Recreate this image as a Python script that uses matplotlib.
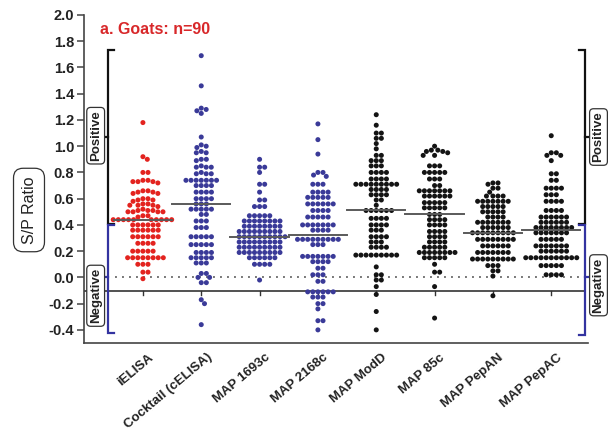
import numpy as np
import matplotlib
matplotlib.use('Agg')
import matplotlib.pyplot as plt
from matplotlib import transforms

plt.rcParams['font.family'] = ['Liberation Sans', 'DejaVu Sans']
plt.rcParams['axes.unicode_minus'] = False

categories = ['iELISA', 'Cocktail (cELISA)', 'MAP 1693c', 'MAP 2168c',
              'MAP ModD', 'MAP 85c', 'MAP PepAN', 'MAP PepAC']

ielisa = [1.18, 0.92, 0.90, 0.80, 0.80,
          0.74, 0.73, 0.73, 0.74, 0.73, 0.72,
          0.66, 0.65, 0.64, 0.65, 0.66, 0.64,
          0.60, 0.59, 0.60, 0.58, 0.59,
          0.55, 0.56, 0.55, 0.54, 0.56, 0.55,
          0.51, 0.50, 0.51, 0.50, 0.50, 0.51, 0.50, 0.52,
          0.47, 0.47, 0.46,
          0.44, 0.44, 0.44, 0.44, 0.44, 0.44, 0.44, 0.44, 0.44, 0.44,
          0.40, 0.40, 0.40, 0.40, 0.40, 0.40,
          0.36, 0.36, 0.36, 0.36, 0.36, 0.36,
          0.31, 0.31, 0.31, 0.31, 0.31, 0.31,
          0.26, 0.26, 0.26, 0.26,
          0.20, 0.20, 0.20, 0.20, 0.20,
          0.15, 0.15, 0.15, 0.15, 0.15, 0.15, 0.15, 0.15,
          0.10, 0.10, 0.10, 0.04, 0.04, -0.01]

cocktail = [1.69, 1.46, 1.29, 1.28, 1.27, 1.25,
            1.07, 1.01, 1.00, 0.99,
            0.96, 0.95, 0.95,
            0.90, 0.90, 0.89,
            0.84, 0.84, 0.85, 0.84,
            0.79, 0.79, 0.80, 0.79,
            0.74, 0.74, 0.74, 0.74, 0.74, 0.74, 0.74,
            0.70, 0.70, 0.70, 0.70,
            0.65, 0.65, 0.65, 0.65,
            0.60, 0.60, 0.60, 0.60,
            0.56, 0.56, 0.56,
            0.52, 0.52, 0.52, 0.52, 0.52,
            0.48, 0.48,
            0.43, 0.43, 0.43,
            0.38, 0.38, 0.38,
            0.31, 0.31, 0.31, 0.31, 0.31,
            0.25, 0.25, 0.25, 0.25, 0.25,
            0.19, 0.19, 0.19, 0.19,
            0.15, 0.15, 0.15, 0.15, 0.15,
            0.11, 0.11, 0.11,
            0.03, 0.03, 0.00, 0.00, -0.04, -0.04,
            -0.17, -0.20, -0.36]

map1693c = [0.90, 0.84, 0.84, 0.80, 0.71, 0.71, 0.65, 0.59, 0.59, 0.54, 0.54, 0.54,
            0.47, 0.47, 0.47, 0.47, 0.47,
            0.43, 0.43, 0.43, 0.43, 0.43, 0.43, 0.43, 0.43,
            0.39, 0.39, 0.39, 0.39, 0.39, 0.39, 0.39, 0.39,
            0.35, 0.35, 0.35, 0.35, 0.35, 0.35, 0.35, 0.35, 0.35,
            0.31, 0.31, 0.31, 0.31, 0.31, 0.31, 0.31, 0.31, 0.31, 0.31,
            0.27, 0.27, 0.27, 0.27, 0.27, 0.27, 0.27, 0.27, 0.27,
            0.23, 0.23, 0.23, 0.23, 0.23, 0.23, 0.23, 0.23, 0.23,
            0.19, 0.19, 0.19, 0.19, 0.19, 0.19, 0.19, 0.19, 0.19,
            0.15, 0.15, 0.15, 0.15, 0.15, 0.15,
            0.10, 0.10, 0.10, 0.10, -0.02]

map2168c = [1.17, 1.05, 0.94,
            0.80, 0.78, 0.77, 0.80,
            0.71, 0.71, 0.71,
            0.65, 0.65, 0.65, 0.65,
            0.61, 0.61, 0.61, 0.61, 0.61,
            0.56, 0.56, 0.56, 0.56, 0.56, 0.56,
            0.51, 0.51, 0.51, 0.51,
            0.46, 0.46, 0.46, 0.46, 0.46,
            0.40, 0.40, 0.40, 0.40, 0.40, 0.40, 0.40,
            0.36, 0.36, 0.36, 0.36,
            0.29, 0.29, 0.29, 0.29, 0.29, 0.29, 0.29, 0.29, 0.29,
            0.25, 0.25, 0.25,
            0.16, 0.16, 0.16, 0.16, 0.16, 0.16, 0.16,
            0.12, 0.12, 0.12, 0.12,
            0.07, 0.07,
            0.02, 0.02, 0.02,
            -0.03, -0.03,
            -0.11, -0.11, -0.11, -0.11, -0.11, -0.11,
            -0.15, -0.15, -0.15,
            -0.20, -0.20, -0.24, -0.33, -0.33, -0.40]

modd = [1.24, 1.16, 1.10, 1.10, 1.06, 1.06, 1.02, 0.98,
        0.93, 0.93, 0.89, 0.89, 0.89, 0.85, 0.85, 0.85,
        0.80, 0.80, 0.80, 0.80, 0.75, 0.75, 0.75, 0.75,
        0.71, 0.71, 0.71, 0.71, 0.71, 0.71, 0.71, 0.71, 0.71,
        0.67, 0.67, 0.67, 0.67, 0.63, 0.63, 0.63, 0.63,
        0.59, 0.59, 0.55,
        0.51, 0.51, 0.51, 0.51, 0.51, 0.51,
        0.45, 0.45, 0.45, 0.45, 0.40, 0.40, 0.40, 0.40,
        0.36, 0.36, 0.36, 0.31, 0.31, 0.31, 0.31,
        0.27, 0.27, 0.27, 0.23, 0.23, 0.23, 0.23,
        0.17, 0.17, 0.17, 0.17, 0.17, 0.17, 0.17, 0.17, 0.17,
        0.08, 0.02, 0.02, -0.02, -0.02, -0.07, -0.13, -0.26, -0.40]

map85c = [1.00, 0.97, 0.96, 0.96, 0.95, 0.97,
          0.93, 0.93, 0.85, 0.85, 0.85,
          0.80, 0.80, 0.80, 0.80, 0.80,
          0.75, 0.75, 0.75, 0.70, 0.70,
          0.66, 0.66, 0.66, 0.66, 0.66, 0.66, 0.66,
          0.62, 0.62, 0.62, 0.62, 0.62, 0.62,
          0.57, 0.57, 0.57, 0.57, 0.57,
          0.53, 0.53, 0.53, 0.53, 0.53,
          0.48, 0.48, 0.48,
          0.44, 0.44, 0.44, 0.44, 0.40, 0.40, 0.40, 0.40,
          0.35, 0.35, 0.35, 0.35, 0.31, 0.31, 0.31, 0.31,
          0.27, 0.27, 0.27, 0.27, 0.23, 0.23, 0.23, 0.23, 0.23,
          0.19, 0.19, 0.19, 0.19, 0.19, 0.19, 0.19, 0.19,
          0.15, 0.15, 0.15, 0.15, 0.15,
          0.10, 0.04, 0.04, -0.07, -0.31]

pepan = [0.72, 0.72, 0.71, 0.68, 0.68, 0.65,
         0.62, 0.62, 0.62, 0.62,
         0.58, 0.58, 0.58, 0.58, 0.58, 0.58, 0.58,
         0.54, 0.54, 0.54, 0.54, 0.54,
         0.50, 0.50, 0.50, 0.50, 0.50,
         0.46, 0.46, 0.46, 0.46,
         0.42, 0.42, 0.42, 0.42, 0.42, 0.42, 0.42,
         0.38, 0.38, 0.38, 0.38, 0.38, 0.38,
         0.34, 0.34, 0.34, 0.34, 0.34, 0.34, 0.34, 0.34, 0.34,
         0.29, 0.29, 0.29, 0.29, 0.29, 0.29, 0.29, 0.29,
         0.24, 0.24, 0.24, 0.24, 0.24, 0.24,
         0.19, 0.19, 0.19, 0.19, 0.19, 0.19, 0.19,
         0.14, 0.14, 0.14, 0.14, 0.14, 0.14, 0.14, 0.14, 0.14,
         0.09, 0.09, 0.09, 0.05, 0.05, 0.01, -0.14]

pepac = [1.08, 0.95, 0.95, 0.93, 0.93, 0.89, 0.79, 0.79, 0.74, 0.74,
         0.68, 0.68, 0.68, 0.68, 0.63, 0.63, 0.63,
         0.58, 0.58, 0.58, 0.58, 0.51, 0.51, 0.51, 0.51,
         0.46, 0.46, 0.46, 0.46, 0.46, 0.46,
         0.42, 0.42, 0.42, 0.42, 0.42, 0.42,
         0.38, 0.38, 0.38, 0.38, 0.38, 0.38, 0.38, 0.38,
         0.34, 0.34, 0.34, 0.34, 0.34, 0.34, 0.34,
         0.29, 0.29, 0.29, 0.29, 0.29,
         0.24, 0.24, 0.24, 0.24, 0.24, 0.24, 0.24,
         0.20, 0.20, 0.20, 0.20, 0.20, 0.20,
         0.15, 0.15, 0.15, 0.15, 0.15, 0.15, 0.15, 0.15, 0.15, 0.15, 0.15,
         0.09, 0.09, 0.09, 0.09, 0.09,
         0.02, 0.02, 0.02, 0.02]

series = [ielisa, cocktail, map1693c, map2168c, modd, map85c, pepan, pepac]
red, blue, black = '#e3231f', '#3a3a98', '#141414'
colors = [red, blue, blue, blue, black, black, black, black]

yticks = [-0.4, -0.2, 0.0, 0.2, 0.4, 0.6, 0.8, 1.0, 1.2, 1.4, 1.6, 1.8, 2.0]

fig = plt.figure(figsize=(6.08, 4.41), dpi=100)
ax = fig.add_axes([84 / 608, 1 - 343 / 441, 504 / 608, 328 / 441])
ax.set_xlim(-1.01, 7.63)
ax.set_ylim(-0.5, 2.0)

p0 = ax.transData.transform((0, 0))
p1 = ax.transData.transform((1, 1))
sx, sy = p1[0] - p0[0], p1[1] - p0[1]


def swarm(vals, d):
    y = np.asarray(vals, dtype=float) * sy
    order = np.argsort(-y, kind='stable')
    xs = np.zeros(len(y))
    px_l, py_l = [], []
    for i in order:
        yi = y[i]
        nb = [(a, b) for a, b in zip(px_l, py_l) if abs(b - yi) < d]
        cands = [0.0]
        for a, b in nb:
            dx = np.sqrt(max(d * d - (b - yi) ** 2, 0.0))
            cands += [a + dx, a - dx]
        cands = sorted(cands, key=lambda c: (round(abs(c), 5), -c))
        for c in cands:
            if all((c - a) ** 2 + (yi - b) ** 2 >= d * d - 1e-6 for a, b in nb):
                xs[i] = c
                break
        px_l.append(xs[i])
        py_l.append(yi)
    return xs / sx


for i, (vals, col) in enumerate(zip(series, colors)):
    offs = swarm(vals, 5.1)
    ax.scatter(i + offs, vals, s=13, color=col, edgecolors='none', zorder=3)
    m = np.median(vals)
    ax.plot([i - 0.5, i + 0.5], [m, m], color='#5a5a5a', lw=1.4, zorder=4)

# reference lines
ax.plot([-0.48, 7.58], [0.0, 0.0], color='#777777', lw=1.4, ls=(0, (1, 2.6)), zorder=2)
ax.plot([-1.01, 7.58], [-0.1, -0.1], color='#333333', lw=1.2, zorder=2)
for i in range(len(categories)):
    ax.plot([i, i], [-0.1, -0.135], color='#333333', lw=1.0, zorder=2)

# brackets
tl = 0.11


def bracket(x, y0, y1, ymid, color, direction):
    ax.plot([x + direction * tl, x, x, x + direction * tl], [y1, y1, y0, y0],
            color=color, lw=1.6, clip_on=False, solid_joinstyle='miter', zorder=2)
    ax.plot([x, x - direction * 0.08], [ymid, ymid], color=color, lw=1.6,
            clip_on=False, zorder=2)


bracket(-0.6, 0.41, 1.73, 1.07, '#111111', 1)
bracket(-0.6, -0.42, 0.40, 0.0, '#3333a0', 1)
bracket(7.58, 0.41, 1.73, 1.07, '#111111', -1)
bracket(7.58, -0.44, 0.40, 0.0, '#3333a0', -1)

box = dict(boxstyle='round,pad=0.22,rounding_size=0.3', fc='white', ec='#333333', lw=0.9)
lab_kw = dict(rotation=90, ha='center', va='center', fontsize=9.5, fontweight='bold',
              color='#222222', bbox=box, clip_on=False, zorder=5)
ax.text(-0.81, 1.08, 'Positive', **lab_kw)
ax.text(-0.81, -0.14, 'Negative', **lab_kw)
ax.text(7.81, 1.07, 'Positive', **lab_kw)
ax.text(7.81, -0.06, 'Negative', **lab_kw)

# axes styling
for s in ['top', 'right']:
    ax.spines[s].set_visible(False)
for s in ['left', 'bottom']:
    ax.spines[s].set_color('#444444')
    ax.spines[s].set_linewidth(1.2)
ax.set_yticks(yticks)
ax.set_yticklabels([f'{v:.1f}' for v in yticks], fontsize=10.5, fontweight='bold', color='#222222')
ax.tick_params(axis='y', length=5, width=1.1, color='#444444', pad=2)
ax.set_xticks(range(len(categories)))
ax.set_xticklabels(categories, rotation=40, ha='right', va='top', rotation_mode='anchor',
                   fontsize=9.5, fontweight='bold', color='#222222')
ax.tick_params(axis='x', length=0, pad=6)
offset = transforms.ScaledTranslation(5 / 100, 0, fig.dpi_scale_trans)
for lab in ax.get_xticklabels():
    lab.set_transform(lab.get_transform() + offset)

fig.text(29 / 608, 1 - 210 / 441, 'S/P Ratio', rotation=90, ha='center', va='center',
         fontsize=11.5, color='#222222',
         bbox=dict(boxstyle='round,pad=0.5,rounding_size=0.6', fc='white', ec='#333333', lw=0.9))

fig.text(100 / 608, 1 - 29 / 441, 'a. Goats: n=90', ha='left', va='center', fontsize=11.5,
         fontweight='bold', color='#d8282a')

fig.savefig('out.png', dpi=100)
